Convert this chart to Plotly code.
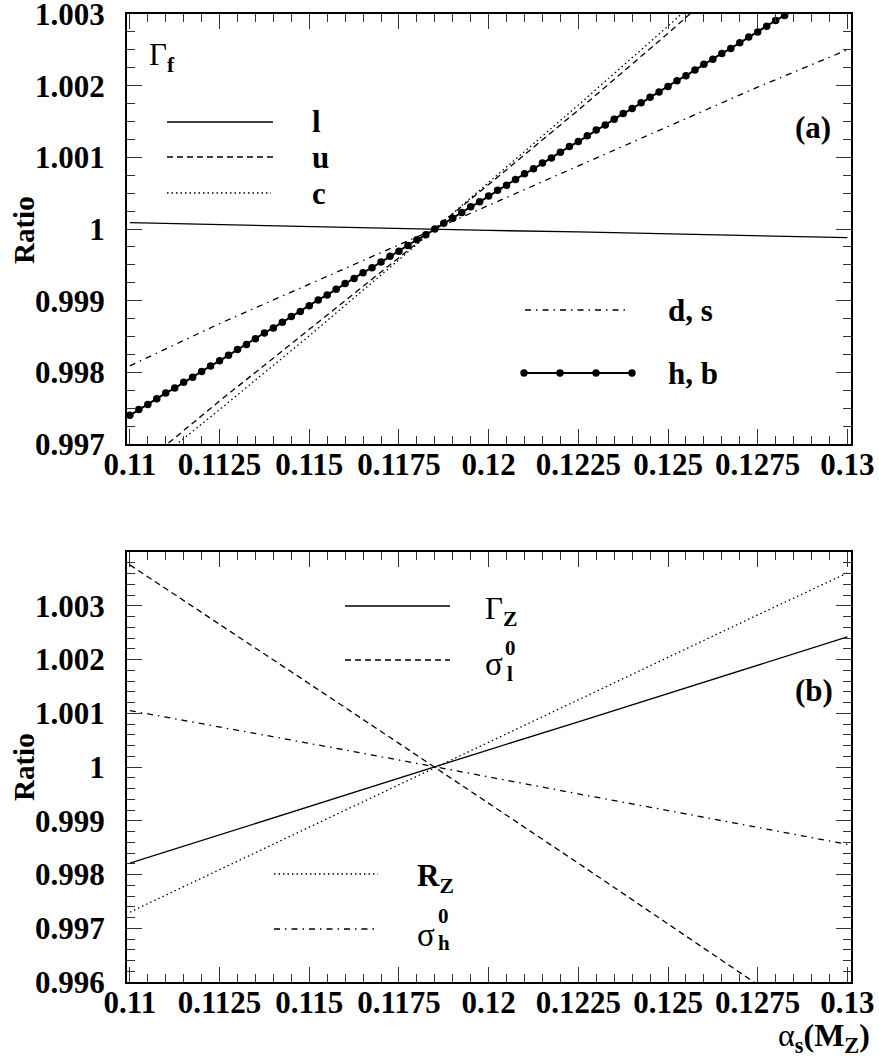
import plotly.graph_objects as go

W, H = 879, 1061

# ---------------- data ----------------
alpha = [0.11, 0.1125, 0.115, 0.1175, 0.12, 0.1225, 0.125, 0.1275, 0.13]

gf_l = [1.00009, 1.00006, 1.00004, 1.00001, 0.99998, 0.99996, 0.99993, 0.99991, 0.99988]
gf_u = [0.99657, 0.99760, 0.99860, 0.99960, 1.00062, 1.00166, 1.00273, 1.00383, 1.00495]
gf_c = [0.99647, 0.99748, 0.99851, 0.99957, 1.00065, 1.00173, 1.00283, 1.00396, 1.00509]
gf_ds = [0.99809, 0.99868, 0.99923, 0.99978, 1.00033, 1.00088, 1.00143, 1.00198, 1.00250]

alpha_fine = [0.11, 0.11025, 0.1105, 0.11075, 0.111, 0.11125, 0.1115, 0.11175, 0.112, 0.11225,
              0.1125, 0.11275, 0.113, 0.11325, 0.1135, 0.11375, 0.114, 0.11425, 0.1145, 0.11475,
              0.115, 0.11525, 0.1155, 0.11575, 0.116, 0.11625, 0.1165, 0.11675, 0.117, 0.11725,
              0.1175, 0.11775, 0.118, 0.11825, 0.1185, 0.11875, 0.119, 0.11925, 0.1195, 0.11975,
              0.12, 0.12025, 0.1205, 0.12075, 0.121, 0.12125, 0.1215, 0.12175, 0.122, 0.12225,
              0.1225, 0.12275, 0.123, 0.12325, 0.1235, 0.12375, 0.124, 0.12425, 0.1245, 0.12475,
              0.125, 0.12525, 0.1255, 0.12575, 0.126, 0.12625, 0.1265, 0.12675, 0.127, 0.12725,
              0.1275, 0.12775, 0.128, 0.12825, 0.1285, 0.12875, 0.129, 0.12925, 0.1295, 0.12975, 0.13]
gf_hb = [0.99740, 0.99748, 0.99755, 0.99763, 0.99771, 0.99778, 0.99786, 0.99793, 0.99801, 0.99809,
         0.99816, 0.99824, 0.99832, 0.99839, 0.99847, 0.99855, 0.99862, 0.99870, 0.99878, 0.99885,
         0.99893, 0.99901, 0.99908, 0.99916, 0.99924, 0.99931, 0.99939, 0.99946, 0.99954, 0.99962,
         0.99969, 0.99977, 0.99985, 0.99992, 1.00000, 1.00008, 1.00015, 1.00023, 1.00031, 1.00038,
         1.00046, 1.00054, 1.00061, 1.00069, 1.00077, 1.00084, 1.00092, 1.00099, 1.00107, 1.00115,
         1.00122, 1.00130, 1.00138, 1.00145, 1.00153, 1.00161, 1.00168, 1.00176, 1.00184, 1.00191,
         1.00199, 1.00207, 1.00214, 1.00222, 1.00230, 1.00237, 1.00245, 1.00252, 1.00260, 1.00268,
         1.00275, 1.00283, 1.00291, 1.00298, 1.00306, 1.00314, 1.00321, 1.00329, 1.00337, 1.00344,
         1.00352]

gamma_z = [0.99821, 0.99874, 0.99926, 0.99979, 1.00032, 1.00084, 1.00137, 1.00190, 1.00242]
sigma_l0 = [1.00376, 1.00266, 1.00155, 1.00044, 0.99933, 0.99821, 0.99708, 0.99595, 0.99482]
r_z = [0.99730, 0.99809, 0.99889, 0.99968, 1.00047, 1.00126, 1.00205, 1.00283, 1.00361]
sigma_h0 = [1.00105, 1.00075, 1.00044, 1.00013, 0.99981, 0.99950, 0.99919, 0.99887, 0.99856]

x_ticks = [0.11, 0.1125, 0.115, 0.1175, 0.12, 0.1225, 0.125, 0.1275, 0.13]
x_ticktext = ["0.11", "0.1125", "0.115", "0.1175", "0.12", "0.1225", "0.125", "0.1275", "0.13"]
ya_ticks = [0.997, 0.998, 0.999, 1.0, 1.001, 1.002, 1.003]
ya_ticktext = ["0.997", "0.998", "0.999", "1", "1.001", "1.002", "1.003"]
yb_ticks = [0.996, 0.997, 0.998, 0.999, 1.0, 1.001, 1.002, 1.003]
yb_ticktext = ["0.996", "0.997", "0.998", "0.999", "1", "1.001", "1.002", "1.003"]

# ---------------- styles ----------------
FONT = "Liberation Serif, Times New Roman, Times, serif"
DASH = "6px,4px"
DOT = "1.5px,3px"
DASHDOT = "6px,5px,1.5px,5px"
LW = 1.3
TICKSIZE = 31


def px(x):
    return x / W


def py(y):
    return 1 - y / H


fig = go.Figure()


def add_line(x, y, dash, xa, ya, width=LW, mode="lines", marker=None):
    fig.add_trace(go.Scatter(x=x, y=y, mode=mode, xaxis=xa, yaxis=ya,
                             line=dict(color="black", width=width, dash=dash),
                             marker=marker, showlegend=False, hoverinfo="skip"))


# top panel
add_line(alpha, gf_l, "solid", "x", "y")
add_line(alpha, gf_u, DASH, "x", "y")
add_line(alpha, gf_c, DOT, "x", "y")
add_line(alpha, gf_ds, DASHDOT, "x", "y")
add_line(alpha_fine, gf_hb, "solid", "x", "y", width=2, mode="lines+markers",
         marker=dict(color="black", size=7.5))

# bottom panel
add_line(alpha, gamma_z, "solid", "x2", "y2")
add_line(alpha, sigma_l0, DASH, "x2", "y2")
add_line(alpha, r_z, DOT, "x2", "y2")
add_line(alpha, sigma_h0, DASHDOT, "x2", "y2")

x_dom = [px(127), px(851)]
x_range = [0.10992, 0.1301]


def xaxis(anchor):
    return dict(domain=x_dom, range=x_range, anchor=anchor, automargin=False,
                tickmode="array", tickvals=x_ticks, ticktext=x_ticktext,
                ticks="inside", ticklen=15, tickwidth=1.2, tickcolor="#333",
                mirror="allticks", showline=True, linecolor="black", linewidth=2,
                showgrid=False, zeroline=False, ticklabeloverflow="allow",
                tickfont=dict(family=FONT, size=TICKSIZE, color="black", weight="bold"),
                ticklabelstandoff=-8,
                minor=dict(tickmode="linear", tick0=0.11, dtick=0.0005, ticks="inside",
                           ticklen=8, tickwidth=1.2, tickcolor="#333", showgrid=False))


def yaxis(anchor, dom, rng, tv, tt, mdt):
    return dict(domain=dom, range=rng, anchor=anchor, automargin=False,
                tickmode="array", tickvals=tv, ticktext=tt,
                ticks="inside", ticklen=15, tickwidth=1.2, tickcolor="#333",
                mirror="allticks", showline=True, linecolor="black", linewidth=2,
                showgrid=False, zeroline=False, ticklabeloverflow="allow",
                tickfont=dict(family=FONT, size=TICKSIZE, color="black", weight="bold"),
                ticklabelstandoff=14,
                minor=dict(tickmode="linear", tick0=rng[0], dtick=mdt, ticks="inside",
                           ticklen=8, tickwidth=1.2, tickcolor="#333", showgrid=False))


fig.update_layout(
    template="none",
    width=W, height=H, margin=dict(l=0, r=0, t=0, b=0, autoexpand=False),
    paper_bgcolor="white", plot_bgcolor="white",
    font=dict(family=FONT),
    xaxis=xaxis("y"),
    yaxis=yaxis("x", [py(444), py(14)], [0.997, 1.003], ya_ticks, ya_ticktext, 0.00025),
    xaxis2=xaxis("y2"),
    yaxis2=yaxis("x2", [py(982), py(552)], [0.996, 1.004], yb_ticks, yb_ticktext, 0.0002),
)

# ---------------- legend samples (decorations) ----------------
shapes = []


def seg(x0, x1, y, dash, width=LW):
    shapes.append(dict(type="line", xref="paper", yref="paper",
                       x0=px(x0), x1=px(x1), y0=py(y), y1=py(y),
                       line=dict(color="black", width=width, dash=dash)))


seg(167, 273, 122, "solid")
seg(167, 273, 157, DASH)
seg(167, 271, 193, DOT)
seg(525, 627, 310, DASHDOT)
seg(523, 633, 373, "solid", 2)
for cx in [524, 560, 596, 632]:
    r = 3.7
    shapes.append(dict(type="circle", xref="paper", yref="paper",
                       x0=px(cx - r), x1=px(cx + r), y0=py(373 + r), y1=py(373 - r),
                       fillcolor="black", line=dict(color="black", width=0)))
seg(345, 450, 606, "solid")
seg(345, 450, 660, DASH)
seg(274, 378, 874, DOT)
seg(274, 376, 929, DASHDOT)
fig.update_layout(shapes=shapes)

# ---------------- text ----------------
ann = []


def text(x, y, s, size=31, anchor="left", angle=0):
    ann.append(dict(x=px(x), y=py(y), xref="paper", yref="paper", text=s, showarrow=False,
                    xanchor=anchor, yanchor="middle", textangle=angle,
                    font=dict(family=FONT, size=size, color="black", weight="bold")))


def reg(x, y, s, size=31, anchor="left"):
    ann.append(dict(x=px(x), y=py(y), xref="paper", yref="paper", text=s, showarrow=False,
                    xanchor=anchor, yanchor="middle",
                    font=dict(family=FONT, size=size, color="black", weight="normal")))


# top panel
reg(147, 57, "Γ<sub><b>f</b></sub>", 31)
text(310, 122, "l")
text(310, 157, "u")
text(310, 193, "c")
text(666, 310, "d, s")
text(666, 373, "h, b")
text(793, 128, "(a)")
text(24, 230, "Ratio", 29, "center", -90)

# bottom panel
reg(483, 611, "Γ<sub><b>Z</b></sub>", 31)
reg(483, 664, "σ", 33)
text(503, 648, "0", 21)
text(505, 674, "l", 21)
text(415, 878, "R<sub>Z</sub>", 31)
reg(415, 935, "σ", 33)
text(436, 916, "0", 21)
text(436, 943, "h", 21)
text(793, 690, "(b)")
text(24, 767, "Ratio", 29, "center", -90)

# x title
reg(872, 1037, "α<sub><b>s</b></sub><b>(M<sub>Z</sub>)</b>", 32, "right")

fig.update_layout(annotations=ann)

fig.write_html("out.html", config={"displayModeBar": False},
               post_script="document.body.style.margin='0';document.body.style.overflow='hidden';")
